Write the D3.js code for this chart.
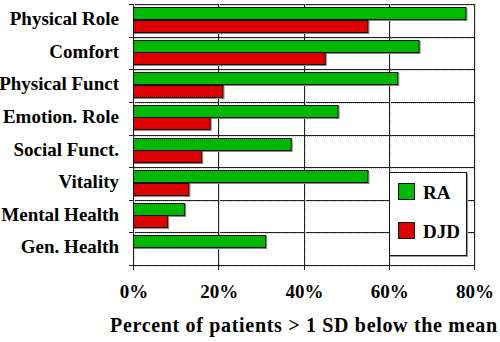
<!DOCTYPE html>
<html>
<head>
<meta charset="utf-8">
<script src="https://cdn.jsdelivr.net/npm/d3@7"></script>
<style>
  html, body { margin: 0; padding: 0; background: #fff; }
  svg { display: block; }
  text { font-family: "Liberation Serif", "Times New Roman", serif; font-weight: bold; fill: #000; }
</style>
</head>
<body>
<svg id="chart" width="500" height="342"></svg>
<script>
const categories = ["Physical Role", "Comfort", "Physical Funct", "Emotion. Role",
                    "Social Funct.", "Vitality", "Mental Health", "Gen. Health"];
const seriesNames = ["RA", "DJD"];
const raValues  = [78, 67, 62, 48, 37, 55, 12, 31];
const djdValues = [55, 45, 21, 18, 16, 13, 8, 0];
const tickValues = [0, 20, 40, 60, 80];
const tickLabels = ["0%", "20%", "40%", "60%", "80%"];
const axisTitle = "Percent of patients > 1 SD below the mean";
const colors = { RA: "#00b800", DJD: "#dd0000" };

const svg = d3.select("#chart");
const pLeft = 133, pRight = 474, pTop = 4, pBottom = 265;

const x = d3.scaleLinear().domain([0, 80]).range([pLeft, pRight]);
const y = d3.scaleBand().domain(categories).range([pTop, pBottom]).padding(0);
const sub = d3.scaleBand().domain(seriesNames).range([3, y.bandwidth() - 4.5]).padding(0);

const rows = categories.map((c, i) => ({ cat: c, RA: raValues[i], DJD: djdValues[i] }));

// horizontal row boundaries (dark + light gray double line)
const bounds = categories.map(c => y(c)).concat([pBottom]);
svg.append("g").selectAll("line").data(bounds).join("line")
  .attr("x1", pLeft).attr("x2", pRight)
  .attr("y1", d => Math.round(d) + 1.5).attr("y2", d => Math.round(d) + 1.5)
  .attr("stroke", "#c8c8c8").attr("stroke-width", 1).attr("stroke-dasharray", "1,1");
svg.append("g").selectAll("line").data(bounds).join("line")
  .attr("x1", pLeft - 4).attr("x2", pRight)
  .attr("y1", d => Math.round(d) + 0.5).attr("y2", d => Math.round(d) + 0.5)
  .attr("stroke", "#222").attr("stroke-width", 1);

// vertical gridlines
svg.append("g").selectAll("line").data(tickValues).join("line")
  .attr("x1", d => Math.round(x(d)) + 1.5).attr("x2", d => Math.round(x(d)) + 1.5)
  .attr("y1", pTop).attr("y2", pBottom)
  .attr("stroke", "#c8c8c8").attr("stroke-width", 1).attr("stroke-dasharray", "1,1");
svg.append("g").selectAll("line").data(tickValues).join("line")
  .attr("x1", d => Math.round(x(d)) + 0.5).attr("x2", d => Math.round(x(d)) + 0.5)
  .attr("y1", pTop).attr("y2", pBottom + 5)
  .attr("stroke", "#222").attr("stroke-width", 1);

// bars
const bars = [];
rows.forEach(r => seriesNames.forEach(s => { if (r[s] > 0) bars.push({ cat: r.cat, s, v: r[s] }); }));
const bg = svg.append("g");
bg.selectAll("rect.sh").data(bars).join("rect").attr("class", "sh")
  .attr("x", x(0) + 1.5).attr("y", d => Math.round(y(d.cat) + sub(d.s)) + 1.5)
  .attr("width", d => x(d.v) - x(0)).attr("height", Math.round(sub.bandwidth()) - 1)
  .attr("fill", "none").attr("stroke", "#888").attr("stroke-width", 1);
bg.selectAll("rect.bar").data(bars).join("rect").attr("class", "bar")
  .attr("x", x(0) + 0.5).attr("y", d => Math.round(y(d.cat) + sub(d.s)) + 0.5)
  .attr("width", d => x(d.v) - x(0)).attr("height", Math.round(sub.bandwidth()) - 1)
  .attr("fill", d => colors[d.s]).attr("stroke", "#111").attr("stroke-width", 1);

// category labels
svg.append("g").selectAll("text").data(categories).join("text")
  .attr("x", 119).attr("y", d => y(d) + y.bandwidth() / 2)
  .attr("dy", "0.25em").attr("text-anchor", "end")
  .style("font-size", "19px").text(d => d);

// tick labels
svg.append("g").selectAll("text").data(tickValues).join("text")
  .attr("x", d => x(d) + 1).attr("y", 298).attr("text-anchor", "middle")
  .style("font-size", "19px").text((d, i) => tickLabels[i]);

// axis title
svg.append("text").attr("x", 110).attr("y", 332)
  .attr("textLength", 387).attr("lengthAdjust", "spacing")
  .style("font-size", "20px").text(axisTitle);

// legend
const lg = svg.append("g");
lg.append("rect").attr("x", 390.5).attr("y", 173.5).attr("width", 77).attr("height", 83)
  .attr("fill", "none").attr("stroke", "#999");
lg.append("rect").attr("x", 389.5).attr("y", 172.5).attr("width", 77).attr("height", 83)
  .attr("fill", "#fff").attr("stroke", "#111");
const ly = d3.scalePoint().domain(seriesNames).range([191, 230]);
lg.selectAll("rect.sw").data(seriesNames).join("rect").attr("class", "sw")
  .attr("x", 398.5).attr("y", d => ly(d) - 7.5).attr("width", 16).attr("height", 16)
  .attr("fill", d => colors[d]).attr("stroke", "#111");
lg.selectAll("text").data(seriesNames).join("text")
  .attr("x", 423).attr("y", d => ly(d) + 8)
  .style("font-size", "19px").text(d => d);
</script>
</body>
</html>
